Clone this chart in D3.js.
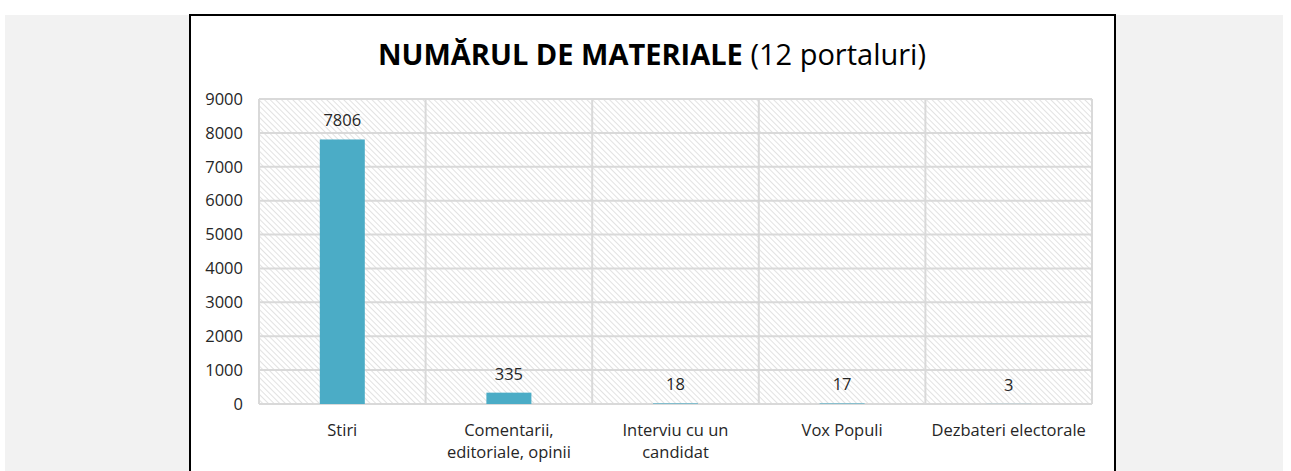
<!DOCTYPE html>
<html><head><meta charset="utf-8">
<script src="https://cdn.jsdelivr.net/npm/d3@7"></script>
<style>
html,body{margin:0;padding:0;background:#fff;}
svg{display:block;}
text{font-family:"Open Sans",sans-serif;}
</style></head>
<body>
<script>
const categories = [["Stiri"], ["Comentarii,", "editoriale, opinii"], ["Interviu cu un", "candidat"], ["Vox Populi"], ["Dezbateri electorale"]];
const values = [7806, 335, 18, 17, 3];
const yTicks = [0, 1000, 2000, 3000, 4000, 5000, 6000, 7000, 8000, 9000];

const W = 1291, H = 471;
const FS = 16.5;
const svg = d3.select("body").append("svg").attr("width", W).attr("height", H);

// page background
svg.append("rect").attr("x", 5).attr("y", 15).attr("width", 1278).attr("height", H - 15).attr("fill", "#f2f2f2");
// chart box
svg.append("rect").attr("x", 190).attr("y", 15).attr("width", 925).attr("height", H).attr("fill", "#fff")
  .attr("stroke", "#000").attr("stroke-width", 2);

const defs = svg.append("defs");
const pat = defs.append("pattern").attr("id", "hatch").attr("patternUnits", "userSpaceOnUse")
  .attr("width", 4).attr("height", 4).attr("patternTransform", "rotate(-45)");
pat.append("rect").attr("width", 4).attr("height", 4).attr("fill", "#fff");
pat.append("line").attr("x1", 0).attr("y1", 0).attr("x2", 0).attr("y2", 4)
  .attr("stroke", "#d6d6d6").attr("stroke-width", 1.4);

const m = {l: 259, r: 1092, t: 99, b: 404};
const x = d3.scaleBand().domain(d3.range(categories.length)).range([m.l, m.r]);
const y = d3.scaleLinear().domain([0, 9000]).range([m.b, m.t]);

// plot area hatch
svg.append("rect").attr("x", m.l).attr("y", m.t).attr("width", m.r - m.l).attr("height", m.b - m.t)
  .attr("fill", "url(#hatch)");

// gridlines
const grid = svg.append("g");
grid.selectAll("line.h").data(yTicks).join("line")
  .attr("x1", m.l).attr("x2", m.r).attr("y1", d => y(d)).attr("y2", d => y(d))
  .attr("stroke", "#d9d9d9").attr("stroke-width", 2);
const vEdges = d3.range(categories.length + 1).map(i => i < categories.length ? x(i) : m.r);
grid.selectAll("line.v").data(vEdges).join("line")
  .attr("x1", d => d).attr("x2", d => d).attr("y1", m.t).attr("y2", m.b)
  .attr("stroke", "#d9d9d9").attr("stroke-width", 2);

// y axis labels
const yAxis = d3.axisLeft(y).tickValues(yTicks).tickSize(0).tickPadding(16).tickFormat(d3.format("d"));
const ya = svg.append("g").attr("transform", `translate(${m.l},0)`).call(yAxis);
ya.select(".domain").remove();
ya.selectAll("text").attr("font-family", "Open Sans").attr("font-size", FS).attr("fill", "#262626");

// bars
const bw = 45;
svg.selectAll("rect.bar").data(values).join("rect").attr("class", "bar")
  .attr("x", (d, i) => x(i) + x.bandwidth() / 2 - bw / 2)
  .attr("width", bw)
  .attr("y", d => y(d)).attr("height", d => y(0) - y(d))
  .attr("fill", "#4bacc6");

// value labels
svg.selectAll("text.val").data(values).join("text").attr("class", "val")
  .attr("x", (d, i) => x(i) + x.bandwidth() / 2)
  .attr("y", d => y(d) - 13)
  .attr("text-anchor", "middle").attr("font-size", FS).attr("fill", "#262626")
  .text(d => d);

// x labels
const xl = svg.selectAll("text.xl").data(categories).join("text").attr("class", "xl")
  .attr("text-anchor", "middle").attr("font-size", FS).attr("fill", "#262626");
xl.selectAll("tspan").data((d, i) => d.map(s => ({s, i}))).join("tspan")
  .attr("x", d => x(d.i) + x.bandwidth() / 2)
  .attr("y", (d, j) => 436 + j * 22)
  .text(d => d.s);

// title
const title = svg.append("text").attr("x", 652).attr("y", 65).attr("text-anchor", "middle")
  .attr("font-size", 29).attr("fill", "#000");
title.append("tspan").attr("font-weight", "bold").text("NUMĂRUL DE MATERIALE");
title.append("tspan").text(" (12 portaluri)");
</script>
</body></html>
